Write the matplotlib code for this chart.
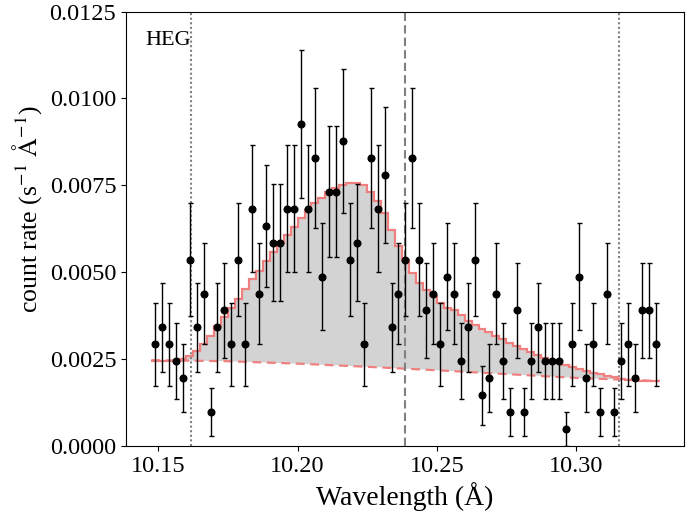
import numpy as np
import matplotlib
matplotlib.use("Agg")
import matplotlib.pyplot as plt

plt.rcParams['font.family'] = ['Liberation Serif', 'DejaVu Serif']
plt.rcParams['mathtext.fontset'] = 'stix'

# ---- data ----
bin_lo = 10.1475          # left edge of first bin (Å)
bin_width = 0.0025        # Å
rate_per_count = 0.0004875  # count rate of one count in a bin

counts = [6, 7, 6, 5, 4, 11, 7, 9, 2, 7, 8, 6, 11, 6, 14, 9, 13, 12, 12, 14,
          14, 19, 14, 17, 10, 15, 15, 18, 11, 12, 6, 17, 14, 16, 7, 9, 11, 17,
          11, 8, 9, 6, 10, 9, 5, 7, 11, 3, 4, 9, 5, 2, 8, 2, 5, 7, 5, 5, 5, 1,
          6, 10, 4, 6, 2, 9, 2, 5, 6, 4, 8, 8, 6]

model_rate = [0.00246, 0.00246, 0.00246, 0.00246, 0.00249, 0.00259, 0.00272,
              0.00293, 0.00317, 0.00345, 0.00370, 0.00396, 0.00423, 0.00452,
              0.00481, 0.00505, 0.00533, 0.00558, 0.00583, 0.00606, 0.00630,
              0.00656, 0.00680, 0.00698, 0.00715, 0.00730, 0.00742, 0.00751,
              0.00757, 0.00756, 0.00750, 0.00732, 0.00706, 0.00670, 0.00622,
              0.00576, 0.00535, 0.00497, 0.00469, 0.00450, 0.00431, 0.00411,
              0.00398, 0.00390, 0.00376, 0.00360, 0.00348, 0.00337, 0.00327,
              0.00317, 0.00307, 0.00296, 0.00288, 0.00278, 0.00271, 0.00261,
              0.00254, 0.00246, 0.00238, 0.00233, 0.00226, 0.00222, 0.00217,
              0.00211, 0.00206, 0.00201, 0.00198, 0.00194, 0.00190, 0.00189,
              0.00188, 0.00188, 0.00187]

cont_wave = [10.1475, 10.175, 10.20, 10.225, 10.25, 10.275, 10.30, 10.33]
cont_rate = [0.00247, 0.00244, 0.00237, 0.00228, 0.00218, 0.00207, 0.00196, 0.00187]

line_center = 10.2385
line_window = [10.1617, 10.3153]

x_ticks = [10.15, 10.20, 10.25, 10.30]
y_ticks = [0.0, 0.0025, 0.0050, 0.0075, 0.0100, 0.0125]
label_text = "HEG"

# ---- derived ----
counts = np.array(counts, dtype=float)
n_bins = len(counts)
edges = bin_lo + bin_width * np.arange(n_bins + 1)
centers = 0.5 * (edges[:-1] + edges[1:])
rate = counts * rate_per_count
rate_err = np.sqrt(counts) * rate_per_count
model_rate = np.array(model_rate)

fig = plt.figure(figsize=(6.94, 5.17), dpi=100)
ax = fig.add_axes([0.1816, 0.1373, 0.8044, 0.8403])

# filled line excess
xs = np.repeat(edges, 2)[1:-1]
ys = np.repeat(model_rate, 2)
poly_x = np.concatenate([xs, cont_wave[::-1]])
poly_y = np.concatenate([ys, cont_rate[::-1]])
ax.fill(poly_x, poly_y, color='lightgray', lw=0, zorder=1)

ax.plot(cont_wave, cont_rate, color='#f08080', lw=1.6, ls=(0, (4, 2.5)), zorder=2)
ax.stairs(model_rate, edges, baseline=None, color='#f08080', lw=1.6, zorder=3)

ax.axvline(line_center, color='gray', lw=1.5, ls=(0, (4, 2)), zorder=2.5)
for w in line_window:
    ax.axvline(w, color='gray', lw=1.5, ls=(0, (1, 1.2)), zorder=2.5)

ax.errorbar(centers, rate, yerr=rate_err, fmt='o', color='black', ms=4.8,
            elinewidth=1.0, capsize=1.8, capthick=1.0, zorder=4)

ax.text(0.034, 0.955, label_text, transform=ax.transAxes, fontsize=16,
        ha='left', va='top')

ax.set_xlim(10.1384, 10.3389)
ax.set_ylim(0, 0.0125)
ax.set_xticks(x_ticks)
ax.set_xticklabels([f"{t:.2f}" for t in x_ticks])
ax.set_yticks(y_ticks)
ax.set_yticklabels([f"{t:.4f}" for t in y_ticks])
ax.tick_params(labelsize=17.5, direction='out', length=3.5, width=0.8)
ax.set_xlabel("Wavelength (Å)", fontsize=20)
ax.set_ylabel(r"count rate (s$^{-1}$ $\mathrm{\AA}^{-1}$)", fontsize=18.5)
ax.yaxis.set_label_coords(-0.147, 0.546)

fig.savefig("out.png", dpi=100)
